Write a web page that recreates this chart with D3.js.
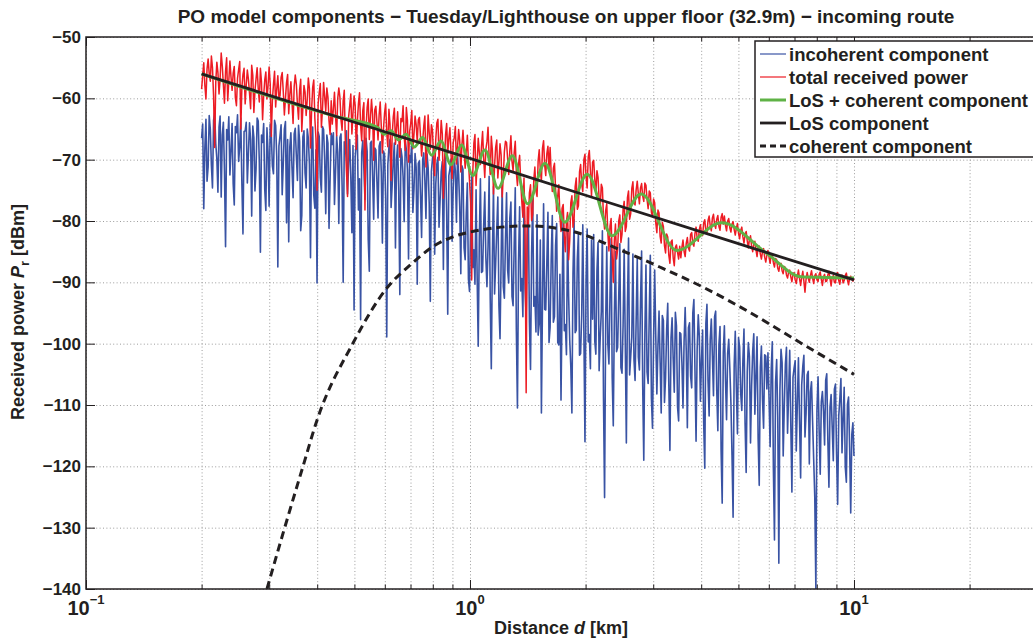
<!DOCTYPE html>
<html>
<head>
<meta charset="utf-8">
<script src="https://cdnjs.cloudflare.com/ajax/libs/d3/7.8.5/d3.min.js"></script>
<style>
  body { margin: 0; background: #fff; }
  svg text { font-family: "Liberation Sans", Arial, Helvetica, sans-serif; font-weight: bold; fill: #231f20; }
  .grid line { stroke: #9c9c9c; stroke-width: 1; stroke-dasharray: 1,2.4; }
  .grid path, .ticks path { display: none; }
  .ticks line { stroke: #231f20; stroke-width: 1; }
</style>
</head>
<body>
<svg id="chart" width="1033" height="639"></svg>
<script>
// ---- data ----
const chartTitle = "PO model components \u2212 Tuesday/Lighthouse on upper floor (32.9m) \u2212 incoming route";
const legendLabels = ["incoherent component", "total received power", "LoS + coherent component", "LoS component", "coherent component"];

// measured traces, sampled evenly (log scale) from 0.2 km to 10 km
const traceStart = 0.2, traceEnd = 10;

const incoherentPower = [
  -66.5, -64.2, -78.0, -68.1, -63.4, -73.5, -71.2, -62.8, -65.0, -70.9, -74.6, -63.6, -62.3, -67.4, -69.8, -75.3, -64.7, -62.9, -76.1, -66.0,
  -63.9, -71.8, -84.2, -65.1, -66.8, -63.0, -72.5, -68.6, -64.1, -73.9, -77.4, -64.6, -65.6, -62.7, -70.3, -67.9, -63.2, -74.0, -82.1, -65.4,
  -65.3, -63.9, -73.8, -69.0, -64.0, -66.8, -79.2, -64.5, -66.4, -75.1, -71.5, -63.2, -63.7, -70.4, -85.1, -66.0, -67.2, -64.1, -74.9, -78.3,
  -64.8, -68.7, -77.6, -64.2, -65.9, -71.0, -72.3, -63.6, -64.4, -69.5, -87.5, -67.8, -66.1, -64.3, -75.7, -70.6, -65.0, -63.8, -80.3, -66.7,
  -83.4, -67.9, -65.6, -71.3, -76.2, -65.8, -64.9, -69.4, -73.4, -64.4, -67.0, -81.6, -79.1, -66.3, -65.3, -72.2, -74.6, -65.0, -66.5, -70.7,
  -86.0, -66.9, -64.7, -75.8, -77.9, -68.4, -90.1, -65.5, -66.2, -72.9, -75.3, -64.6, -65.1, -70.0, -78.8, -66.0, -67.3, -81.2, -73.0, -65.7,
  -67.5, -65.6, -77.3, -71.9, -66.1, -68.8, -80.4, -66.4, -65.8, -74.2, -90.0, -67.1, -68.2, -65.3, -75.6, -70.5, -66.7, -72.8, -81.9, -67.7,
  -94.5, -69.6, -67.4, -66.0, -78.2, -73.1, -96.1, -68.9, -66.9, -71.4, -76.5, -66.5, -68.6, -83.0, -88.2, -67.3, -67.0, -72.6, -79.7, -68.1,
  -68.4, -73.6, -79.5, -67.8, -67.1, -72.0, -83.6, -68.6, -69.2, -76.3, -98.9, -70.8, -68.0, -66.7, -77.8, -74.1, -70.1, -67.3, -84.4, -69.9,
  -67.6, -75.0, -92.0, -68.2, -69.5, -72.7, -80.1, -67.0, -68.3, -71.6, -86.2, -69.3, -70.4, -66.9, -78.6, -74.8, -69.0, -71.2, -90.3, -70.6,
  -70.2, -75.8, -82.7, -70.0, -68.9, -73.4, -79.6, -69.1, -71.3, -77.2, -93.1, -71.9, -69.8, -68.5, -85.4, -74.0, -70.7, -69.6, -81.0, -76.5,
  -72.0, -70.3, -87.9, -71.1, -69.4, -78.4, -95.2, -72.6, -71.5, -69.9, -83.3, -74.7, -70.0, -71.8, -80.2, -69.2, -72.4, -77.6, -88.6, -71.0,
  -71.6, -84.4, -86.3, -78.8, -73.8, -89.5, -91.5, -80.9, -72.2, -87.6, -84.7, -90.3, -74.9, -89.1, -100.4, -82.8, -73.1, -88.4, -88.2, -80.7,
  -75.3, -86.0, -90.7, -84.2, -72.7, -92.5, -104.1, -85.8, -74.4, -91.9, -87.0, -81.4, -76.1, -93.8, -99.2, -86.6, -73.9, -90.7, -92.6, -83.1,
  -75.4, -88.0, -90.1, -79.5, -76.9, -92.3, -93.8, -84.1, -74.6, -97.9, -110.5, -86.6, -77.7, -91.4, -89.4, -95.6, -75.9, -91.0, -95.7, -82.6,
  -78.3, -96.5, -104.2, -85.2, -76.4, -93.9, -92.3, -98.1, -79.0, -98.6, -96.8, -83.1, -111.3, -93.0, -77.2, -94.4, -94.5, -86.7, -78.6, -99.8,
  -97.3, -86.2, -79.1, -96.5, -95.6, -84.0, -80.4, -99.8, -100.2, -88.7, -109.2, -93.3, -78.5, -97.9, -96.9, -101.8, -81.7, -92.4, -99.4, -103.7,
  -111.3, -88.6, -79.8, -98.2, -97.8, -86.1, -82.0, -101.9, -101.6, -95.3, -80.6, -98.1, -116.0, -89.7, -81.3, -99.7, -98.5, -104.1, -83.1, -96.0,
  -82.2, -99.6, -101.7, -88.1, -83.5, -104.4, -99.0, -94.8, -81.6, -108.7, -125.1, -96.9, -84.2, -100.0, -103.3, -91.8, -82.9, -105.5, -113.4, -95.3,
  -85.0, -101.3, -100.6, -92.4, -83.7, -103.9, -104.8, -97.0, -84.6, -99.8, -116.2, -93.7, -82.8, -105.1, -102.1, -98.9, -85.4, -102.6, -106.0, -96.1,
  -86.1, -102.2, -104.3, -93.3, -84.9, -106.8, -119.0, -98.4, -87.2, -104.6, -106.5, -95.5, -85.6, -108.9, -113.8, -99.3, -88.0, -98.7, -108.2, -100.4,
  -94.7, -103.0, -111.3, -95.4, -96.2, -109.6, -105.6, -97.7, -93.4, -106.8, -117.4, -99.1, -95.8, -102.5, -107.9, -94.9, -97.1, -110.3, -112.6, -98.2,
  -98.4, -103.1, -110.5, -99.6, -94.1, -101.2, -113.7, -97.4, -96.6, -105.3, -107.2, -95.0, -92.8, -104.4, -115.9, -100.9, -95.3, -98.8, -109.4, -102.6,
  -97.8, -112.9, -120.3, -96.7, -93.6, -106.1, -111.8, -99.3, -96.0, -102.0, -108.5, -95.6, -94.7, -107.7, -114.2, -100.2, -97.2, -117.6, -126.0, -101.4,
  -97.1, -105.8, -112.4, -101.6, -99.3, -104.0, -109.6, -118.2, -128.3, -103.5, -98.0, -107.3, -114.7, -99.0, -100.5, -108.1, -110.9, -102.7, -97.6, -113.0,
  -121.0, -104.6, -99.8, -102.1, -116.2, -106.9, -101.2, -98.4, -111.5, -105.2, -98.9, -115.6, -123.1, -103.9, -100.4, -109.1, -113.8, -101.8, -102.0, -107.4,
  -101.5, -108.8, -116.8, -104.2, -99.7, -120.4, -132.0, -106.3, -102.6, -111.9, -135.8, -107.5, -100.9, -103.1, -118.3, -110.2, -103.4, -100.6, -114.6, -108.0,
  -101.1, -113.3, -124.2, -105.5, -104.0, -102.8, -117.5, -109.7, -102.3, -112.5, -121.9, -106.7, -103.7, -101.9, -115.2, -111.4, -105.1, -104.5, -119.6, -107.9,
  -106.2, -112.7, -118.9, -125.0, -140.0, -110.8, -105.4, -114.1, -121.3, -109.5, -107.8, -111.0, -116.5, -106.0, -104.9, -115.7, -123.4, -110.3, -108.3, -113.6,
  -119.1, -107.4, -106.6, -118.0, -126.2, -111.8, -109.0, -105.7, -117.8, -112.2, -107.1, -120.1, -122.6, -109.9, -108.7, -116.9, -127.6, -114.8, -112.9, -118.3
];

const totalPower = [
  -58.5, -56.3, -54.2, -57.9, -60.1, -55.2, -53.6, -56.0, -57.2, -53.1, -55.0, -59.6, -68.0, -57.4, -54.1, -55.8, -59.3, -56.9, -52.6, -54.7,
  -57.8, -60.8, -55.6, -53.4, -60.4, -57.1, -53.9, -56.5, -58.7, -55.9, -54.8, -59.9, -61.2, -56.7, -55.3, -54.0, -65.0, -58.2, -56.1, -55.1,
  -60.9, -57.8, -55.4, -56.9, -59.2, -61.7, -54.6, -56.2, -62.3, -58.8, -56.8, -55.0, -58.4, -60.6, -55.1, -57.3, -63.5, -59.5, -57.0, -55.7,
  -60.1, -58.0, -54.9, -57.6, -66.2, -60.3, -57.7, -55.6, -61.4, -58.5, -56.3, -59.9, -59.6, -56.6, -55.8, -58.9, -62.7, -60.0, -57.4, -56.1,
  -62.5, -59.4, -57.3, -60.6, -64.1, -58.1, -56.2, -57.7, -61.0, -63.4, -58.6, -56.9, -65.4, -61.5, -57.9, -59.0, -62.8, -60.2, -56.7, -58.4,
  -68.1, -62.0, -58.2, -57.0, -63.3, -66.5, -75.0, -60.9, -59.1, -57.6, -64.7, -61.8, -57.4, -59.7, -62.1, -58.3, -59.8, -63.7, -65.9, -60.4,
  -64.2, -61.7, -59.0, -62.9, -66.1, -60.0, -58.3, -59.8, -63.5, -65.2, -60.4, -58.7, -67.2, -71.9, -76.0, -63.0, -61.2, -59.3, -65.8, -62.4,
  -59.6, -61.1, -68.3, -63.8, -60.9, -59.1, -64.4, -66.9, -62.0, -60.7, -78.2, -64.9, -61.5, -60.1, -66.7, -63.2, -60.2, -62.6, -70.1, -61.9,
  -61.3, -63.9, -66.8, -62.7, -60.6, -64.6, -68.9, -65.0, -62.4, -60.9, -65.7, -67.9, -61.8, -64.2, -73.4, -66.0, -63.0, -61.6, -67.5, -64.8,
  -62.2, -66.4, -69.6, -63.3, -63.8, -61.2, -66.3, -68.5, -61.5, -63.6, -70.4, -65.4, -64.1, -62.0, -68.2, -65.9, -62.9, -64.3, -67.1, -63.5,
  -63.1, -66.2, -69.4, -67.0, -64.5, -62.9, -71.2, -68.1, -62.7, -65.6, -68.3, -64.3, -65.2, -69.8, -72.6, -66.7, -64.0, -63.4, -70.1, -67.5,
  -63.6, -65.8, -76.3, -70.5, -65.9, -64.1, -69.0, -66.6, -64.8, -68.9, -73.1, -67.2, -66.4, -64.6, -70.7, -68.0, -65.1, -66.9, -72.0, -67.7,
  -65.2, -68.4, -71.4, -69.0, -66.0, -70.2, -73.5, -76.9, -89.6, -72.1, -67.3, -65.9, -74.2, -70.6, -66.5, -68.8, -70.8, -67.8, -65.4, -69.9,
  -72.9, -68.3, -67.1, -64.7, -69.5, -72.4, -66.2, -68.5, -75.6, -71.0, -68.0, -66.8, -73.0, -70.4, -67.4, -69.2, -76.1, -72.7, -68.7, -67.0,
  -67.2, -69.9, -72.4, -68.5, -66.1, -70.3, -71.8, -68.9, -67.0, -72.1, -74.2, -70.7, -69.3, -73.6, -76.8, -79.4, -73.0, -81.2, -108.0, -77.7,
  -80.5, -75.4, -74.1, -79.9, -78.9, -73.3, -71.2, -75.1, -76.0, -70.2, -68.4, -71.7, -73.5, -68.1, -66.9, -70.9, -72.6, -69.0, -67.8, -71.5,
  -68.0, -72.3, -75.2, -71.4, -70.6, -74.8, -78.4, -75.9, -74.1, -79.2, -81.7, -77.9, -77.3, -82.4, -85.0, -80.1, -78.6, -86.3, -83.2, -77.0,
  -75.9, -81.0, -79.8, -74.4, -73.0, -78.1, -77.5, -72.0, -70.8, -74.0, -75.2, -70.0, -69.1, -72.8, -74.6, -69.6, -68.5, -71.9, -76.0, -70.4,
  -70.1, -73.2, -75.5, -71.8, -72.9, -76.4, -77.8, -74.0, -74.6, -79.5, -81.3, -78.3, -77.2, -82.0, -84.9, -80.8, -79.6, -85.7, -90.0, -83.1,
  -80.5, -86.2, -84.6, -80.0, -79.0, -83.5, -82.2, -78.1, -76.8, -81.7, -80.9, -76.2, -75.1, -79.7, -78.8, -74.7, -73.6, -77.0, -77.4, -74.9,
  -73.5, -75.6, -77.2, -74.6, -73.9, -75.9, -76.8, -73.8, -74.2, -76.5, -78.0, -75.1, -75.4, -78.6, -79.3, -76.4, -77.0, -80.3, -81.9, -78.2,
  -78.7, -82.5, -83.6, -80.2, -80.9, -84.0, -85.2, -82.1, -82.6, -85.6, -86.9, -83.4, -83.1, -86.0, -87.3, -84.3, -83.9, -85.1, -86.2, -84.1,
  -86.0, -84.3, -83.1, -85.0, -85.8, -83.6, -82.7, -84.4, -84.9, -82.2, -81.9, -83.7, -84.1, -82.0, -81.0, -82.8, -83.3, -81.4, -80.6, -82.1,
  -82.4, -80.3, -79.8, -81.7, -81.9, -79.9, -79.2, -80.8, -81.6, -79.5, -78.9, -80.6, -81.2, -79.7, -79.1, -80.9, -81.5, -79.4, -78.8, -80.5,
  -79.2, -80.7, -81.6, -80.0, -79.6, -81.1, -81.8, -80.5, -80.1, -81.4, -82.3, -81.2, -80.4, -82.0, -82.9, -81.5, -81.0, -82.6, -83.6, -82.2,
  -81.7, -83.2, -84.4, -83.0, -82.4, -84.1, -85.0, -83.8, -83.3, -84.7, -85.8, -84.2, -84.1, -85.4, -86.2, -85.0, -84.5, -85.9, -86.7, -85.6,
  -84.8, -85.9, -86.9, -85.4, -85.6, -86.8, -87.5, -86.1, -86.3, -87.7, -88.2, -87.0, -86.9, -88.1, -88.6, -87.4, -87.6, -88.8, -89.3, -88.3,
  -88.0, -89.1, -89.9, -88.7, -88.4, -89.6, -90.2, -89.0, -88.0, -89.4, -90.5, -89.2, -88.2, -89.8, -91.6, -89.5, -88.4, -89.3, -90.0, -88.9,
  -88.1, -89.3, -90.2, -88.9, -88.6, -89.6, -89.9, -88.7, -88.3, -89.5, -90.5, -89.1, -88.7, -89.9, -89.8, -88.8, -88.2, -89.4, -90.6, -89.2,
  -88.9, -90.0, -90.1, -88.6, -88.4, -89.7, -90.3, -89.0, -88.8, -90.1, -89.7, -88.9, -88.5, -89.6, -90.4, -89.3, -89.0, -89.5, -89.8, -89.4
];

// model curves
const sumDist  = [0.2, 0.45, 0.574, 0.598, 0.623, 0.651, 0.682, 0.716, 0.753, 0.794, 0.84, 0.892, 0.951, 1.017, 1.094, 1.183, 1.289, 1.413, 1.568, 1.765, 2.02, 2.345, 2.79, 3.454, 4.52, 5.93, 7.3, 8.5, 10];
const sumPower = [-56.0, -63.0, -64.74, -65.86, -65.27, -66.79, -65.84, -67.93, -66.38, -69.26, -66.95, -70.82, -67.62, -72.59, -68.41, -74.68, -69.36, -77.19, -70.58, -80.2, -72.39, -82.4, -75.6, -84.8, -80.3, -85.3, -89.1, -89.2, -89.3];

const losDist  = [0.2, 0.5, 1, 2, 5, 10];
const losPower = [-56.0, -63.9, -69.8, -75.8, -83.7, -89.6];

const cohDist  = [0.296, 0.326, 0.367, 0.40, 0.496, 0.608, 0.698, 0.80, 1.0, 1.41, 1.85, 2.46, 3.12, 4.05, 5.05, 7.55, 10];
const cohPower = [-140, -130.9, -120.1, -112.4, -99.9, -90.9, -87.2, -84.2, -81.8, -80.8, -81.7, -84.7, -87.5, -90.8, -94.0, -100.5, -105.0];

const yTicks = [-140, -130, -120, -110, -100, -90, -80, -70, -60, -50];
const xLabelTicks = [0.1, 1, 10];

// ---- layout ----
const svg = d3.select("#chart");
const mLeft = 86, mTop = 37, mBottom = 589, mRight = 1037.2;

const x = d3.scaleLog().domain([0.1, 30]).range([mLeft, mRight]);
const y = d3.scaleLinear().domain([-140, -50]).range([mBottom, mTop]);

const colors = {
  incoherent: "#3953a4",
  total: "#ed1c24",
  sum: "#5fb246",
  ink: "#231f20"
};

function traceDist(arr) {
  return arr.map((_, i) => traceStart * Math.pow(traceEnd / traceStart, i / (arr.length - 1)));
}

// grid
svg.append("g")
  .attr("class", "grid")
  .attr("transform", `translate(0,${mBottom})`)
  .call(d3.axisBottom(x).tickSize(-(mBottom - mTop)).tickFormat(""));

svg.append("g")
  .attr("class", "grid")
  .attr("transform", `translate(${mLeft},0)`)
  .call(d3.axisLeft(y).tickValues(yTicks).tickSize(-(mRight - mLeft)).tickFormat(""));

// data lines, clipped
svg.append("clipPath").attr("id", "plot-clip")
  .append("rect")
  .attr("x", mLeft).attr("y", mTop)
  .attr("width", mRight - mLeft).attr("height", mBottom - mTop);

const plot = svg.append("g").attr("clip-path", "url(#plot-clip)");

const rawLine = d3.line()
  .x(d => x(d[0]))
  .y(d => y(d[1]));

const smoothLine = d3.line()
  .x(d => x(d[0]))
  .y(d => y(d[1]))
  .curve(d3.curveMonotoneX);

plot.append("path")
  .datum(d3.zip(traceDist(incoherentPower), incoherentPower))
  .attr("d", rawLine)
  .attr("fill", "none")
  .attr("stroke", colors.incoherent)
  .attr("stroke-width", 1.6)
  .attr("stroke-linejoin", "round");

plot.append("path")
  .datum(d3.zip(traceDist(totalPower), totalPower))
  .attr("d", rawLine)
  .attr("fill", "none")
  .attr("stroke", colors.total)
  .attr("stroke-width", 1.5)
  .attr("stroke-linejoin", "round");

plot.append("path")
  .datum(d3.zip(sumDist, sumPower))
  .attr("d", smoothLine)
  .attr("fill", "none")
  .attr("stroke", colors.sum)
  .attr("stroke-width", 3);

plot.append("path")
  .datum(d3.zip(losDist, losPower))
  .attr("d", rawLine)
  .attr("fill", "none")
  .attr("stroke", colors.ink)
  .attr("stroke-width", 2.8);

plot.append("path")
  .datum(d3.zip(cohDist, cohPower))
  .attr("d", smoothLine)
  .attr("fill", "none")
  .attr("stroke", colors.ink)
  .attr("stroke-width", 3)
  .attr("stroke-dasharray", "8,5");

// ticks (inside the box, matlab style)
const allX = x.ticks();
svg.append("g").attr("class", "ticks")
  .attr("transform", `translate(0,${mBottom})`)
  .call(d3.axisBottom(x).tickValues(allX).tickSizeInner(-4.5).tickSizeOuter(0).tickFormat(""));
svg.append("g").attr("class", "ticks")
  .attr("transform", `translate(0,${mBottom})`)
  .call(d3.axisBottom(x).tickValues(xLabelTicks).tickSizeInner(-9).tickSizeOuter(0).tickFormat(""));
svg.append("g").attr("class", "ticks")
  .attr("transform", `translate(0,${mTop})`)
  .call(d3.axisTop(x).tickValues(allX).tickSizeInner(-4.5).tickSizeOuter(0).tickFormat(""));
svg.append("g").attr("class", "ticks")
  .attr("transform", `translate(0,${mTop})`)
  .call(d3.axisTop(x).tickValues(xLabelTicks).tickSizeInner(-9).tickSizeOuter(0).tickFormat(""));

const yAxis = svg.append("g").attr("class", "ticks")
  .attr("transform", `translate(${mLeft},0)`)
  .call(d3.axisLeft(y).tickValues(yTicks).tickSizeInner(-9).tickSizeOuter(0).tickPadding(5));
yAxis.selectAll("text")
  .style("font-size", "17px")
  .attr("fill", colors.ink);

// box
svg.append("rect")
  .attr("x", mLeft).attr("y", mTop)
  .attr("width", mRight - mLeft).attr("height", mBottom - mTop)
  .attr("fill", "none")
  .attr("stroke", colors.ink)
  .attr("stroke-width", 1.5);

// x tick labels 10^n
const xl = svg.append("g");
xLabelTicks.forEach(v => {
  const t = xl.append("text")
    .attr("x", x(v))
    .attr("y", 615)
    .attr("text-anchor", "middle")
    .style("font-size", "20px");
  t.append("tspan").text("10");
  t.append("tspan")
    .attr("dy", -11)
    .style("font-size", "13px")
    .text(d3.format("d")(Math.round(Math.log10(v))));
});

// title and axis labels
svg.append("text")
  .attr("x", 566)
  .attr("y", 23)
  .attr("text-anchor", "middle")
  .style("font-size", "19px")
  .text(chartTitle);

const xTitle = svg.append("text")
  .attr("x", 561)
  .attr("y", 634)
  .attr("text-anchor", "middle")
  .style("font-size", "18px");
xTitle.append("tspan").text("Distance ");
xTitle.append("tspan").style("font-style", "italic").text("d");
xTitle.append("tspan").text(" [km]");

const yTitle = svg.append("text")
  .attr("transform", "translate(24,312) rotate(-90)")
  .attr("text-anchor", "middle")
  .style("font-size", "18px");
yTitle.append("tspan").text("Received power ");
yTitle.append("tspan").style("font-style", "italic").text("P");
yTitle.append("tspan").attr("dy", 5).style("font-size", "13px").text("r");
yTitle.append("tspan").attr("dy", -5).text(" [dBm]");

// legend
const legend = svg.append("g");
legend.append("rect")
  .attr("x", 755).attr("y", 41)
  .attr("width", 300).attr("height", 116)
  .attr("fill", "#fff")
  .attr("stroke", colors.ink)
  .attr("stroke-width", 1.5);

const legendStyles = [
  { color: colors.incoherent, width: 1.2, dash: null },
  { color: colors.total, width: 1.2, dash: null },
  { color: colors.sum, width: 3, dash: null },
  { color: colors.ink, width: 2.8, dash: null },
  { color: colors.ink, width: 3, dash: "6,4" }
];

legendLabels.forEach((label, i) => {
  const cy = 54 + i * 23;
  legend.append("line")
    .attr("x1", 760).attr("x2", 786)
    .attr("y1", cy).attr("y2", cy)
    .attr("stroke", legendStyles[i].color)
    .attr("stroke-width", legendStyles[i].width)
    .attr("stroke-dasharray", legendStyles[i].dash);
  legend.append("text")
    .attr("x", 789)
    .attr("y", cy + 6.5)
    .style("font-size", "18.5px")
    .text(label);
});
</script>
</body>
</html>
